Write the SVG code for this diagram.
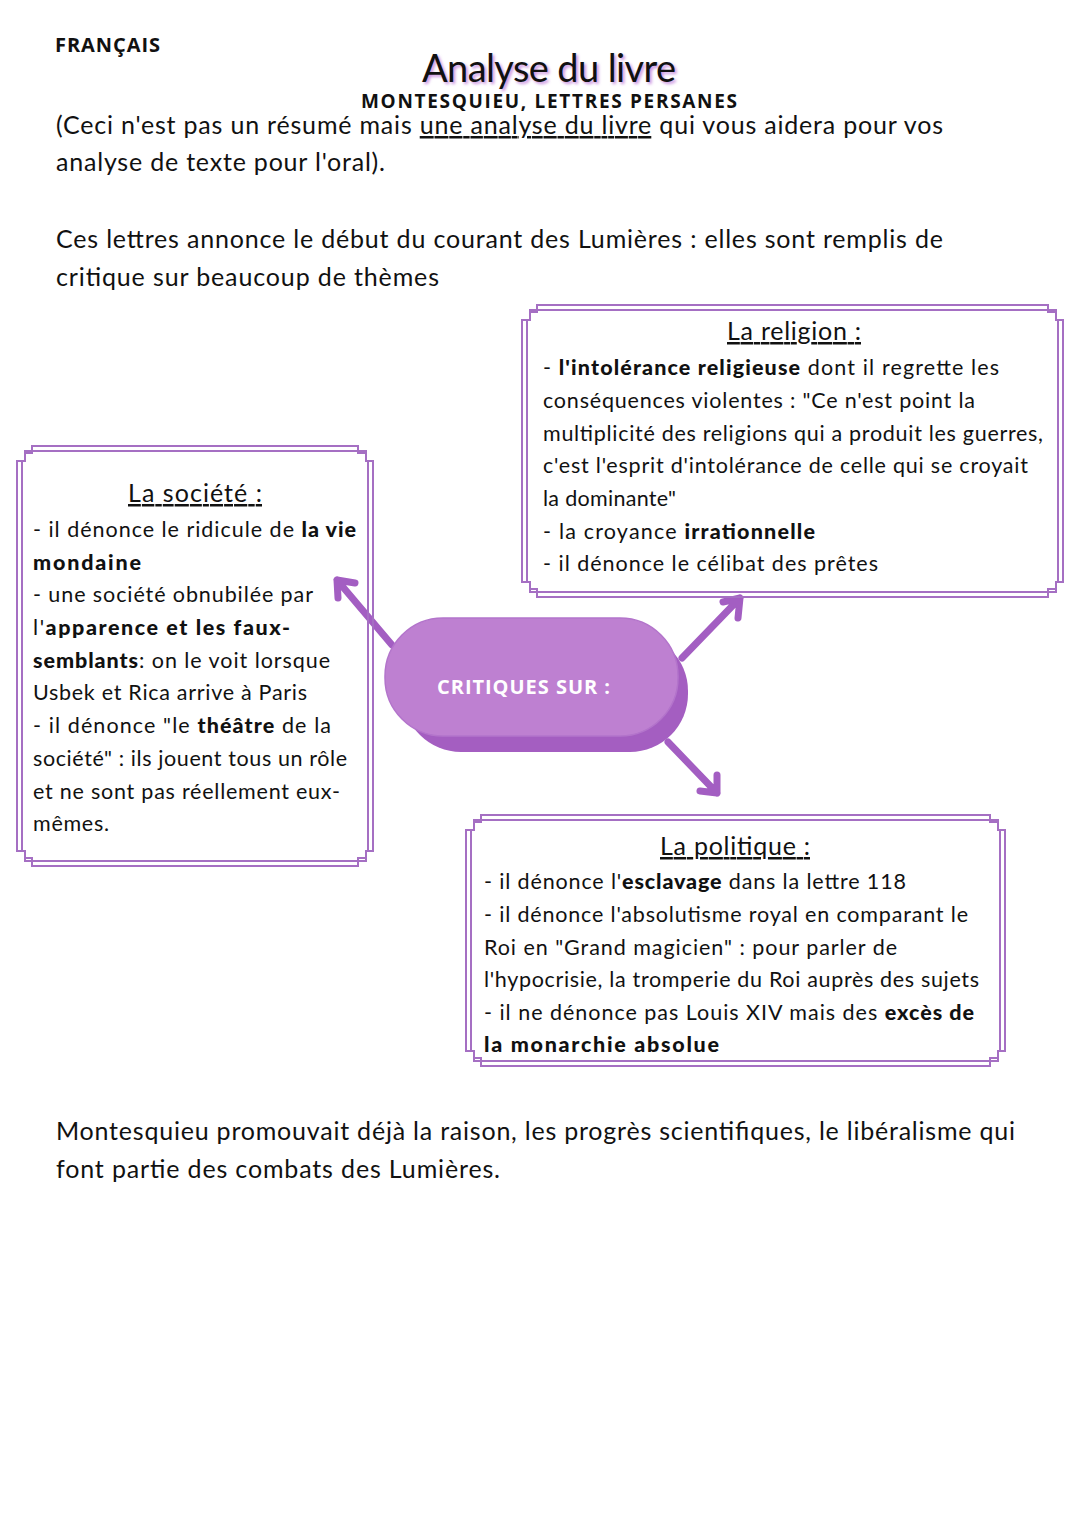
<svg xmlns="http://www.w3.org/2000/svg" width="1080" height="1527" viewBox="0 0 1080 1527">
<defs>
<style>
.t{font-family:Lato,"Noto Sans","DejaVu Sans",sans-serif;fill:#111;}
.top{font-size:25px;}
.box{font-size:21.5px;}
.h{font-size:25px;text-decoration:underline;}
.b{font-weight:900;}
.frame{fill:none;stroke:#A56FC3;stroke-width:2;}
.arrow{fill:none;stroke:#A35EC2;stroke-width:7;stroke-linecap:round;stroke-linejoin:round;}
.hdr{font-family:"Open Sans","Noto Sans","Liberation Sans",sans-serif;font-weight:700;fill:#111;}
</style>
<filter id="glow" x="-10%" y="-30%" width="120%" height="160%">
<feGaussianBlur stdDeviation="1.5"/>
</filter>
</defs>
<rect width="1080" height="1527" fill="#fff"/>

<g id="header">
<text class="hdr" x="55" y="52" font-size="20" textLength="105">FRANÇAIS</text>
<text class="t" x="551" y="84" font-size="38" text-anchor="middle" filter="url(#glow)" style="fill:#C98FE0" textLength="254">Analyse du livre</text>
<text class="t" x="549" y="82" font-size="38" text-anchor="middle" textLength="254">Analyse du livre</text>
<text class="hdr" x="549" y="108" font-size="19" text-anchor="middle" textLength="376">MONTESQUIEU, LETTRES PERSANES</text>
</g>

<g id="intro">
<text class="t top" x="56" y="134" textLength="887">(Ceci n'est pas un résumé mais <tspan text-decoration="underline">une analyse du livre</tspan> qui vous aidera pour vos</text>
<text class="t top" x="56" y="171" textLength="329">analyse de texte pour l'oral).</text>
<text class="t top" x="56" y="248" textLength="887">Ces lettres annonce le début du courant des Lumières : elles sont remplis de</text>
<text class="t top" x="56" y="286" textLength="383">critique sur beaucoup de thèmes</text>
</g>

<g id="connectors">
<path class="arrow" d="M392,645 L337,580 M355,583 L337,580 L338,598"/>
<path class="arrow" d="M682,658 L740,598 M723,602 L740,598 L738,618"/>
<path class="arrow" d="M668,742 L717,793 M700,791 L717,793 L717,775"/>
</g>

<g id="node-critiques">
<rect x="403" y="633" width="285" height="119" rx="58" fill="#A45EC1"/>
<rect x="385" y="618" width="293" height="118" rx="58" fill="#BE80D1" stroke="#B374CB" stroke-width="1.5"/>
<text x="437" y="694" font-family="'Open Sans','Noto Sans',sans-serif" font-weight="700" font-size="20" fill="#fff" textLength="173">CRITIQUES SUR :</text>
</g>

<g id="node-religion">
<path class="frame" d="M537,305 H1048 V312 H1056 V320 H1063 V582 H1056 V589 H1048 V597 H537 V589 H530 V582 H522 V320 H530 V312 H537 Z"/>
<path class="frame" d="M530,310 H1056 V320 H1058 V582 H1056 V592 H530 V582 H527 V320 H530 Z"/>
<text class="t h" x="794" y="340" text-anchor="middle" textLength="134">La religion :</text>
<text class="t box" x="543" y="375" textLength="456">- <tspan class="b">l'intolérance religieuse</tspan> dont il regrette les</text>
<text class="t box" x="543" y="408" textLength="432">conséquences violentes : "Ce n'est point la</text>
<text class="t box" x="543" y="441" textLength="500">multiplicité des religions qui a produit les guerres,</text>
<text class="t box" x="543" y="473" textLength="485">c'est l'esprit d'intolérance de celle qui se croyait</text>
<text class="t box" x="543" y="506" textLength="133">la dominante"</text>
<text class="t box" x="543" y="539" textLength="272">- la croyance <tspan class="b">irrationnelle</tspan></text>
<text class="t box" x="543" y="571" textLength="335">- il dénonce le célibat des prêtes</text>
</g>

<g id="node-societe">
<path class="frame" d="M32,446 H358 V453 H366 V461 H373 V851 H366 V858 H358 V866 H32 V858 H25 V851 H17 V461 H25 V453 H32 Z"/>
<path class="frame" d="M25,451 H366 V461 H368 V851 H366 V861 H25 V851 H22 V461 H25 Z"/>
<text class="t h" x="195" y="502" text-anchor="middle" textLength="134">La société :</text>
<text class="t box" x="33" y="537" textLength="323">- il dénonce le ridicule de <tspan class="b">la vie</tspan></text>
<text class="t box b" x="33" y="570" textLength="108">mondaine</text>
<text class="t box" x="33" y="602" textLength="280">- une société obnubilée par</text>
<text class="t box" x="33" y="635" textLength="257">l'<tspan class="b">apparence et les faux-</tspan></text>
<text class="t box" x="33" y="668" textLength="297"><tspan class="b">semblants</tspan>: on le voit lorsque</text>
<text class="t box" x="33" y="700" textLength="274">Usbek et Rica arrive à Paris</text>
<text class="t box" x="33" y="733" textLength="298">- il dénonce "le <tspan class="b">théâtre</tspan> de la</text>
<text class="t box" x="33" y="766" textLength="314">société" : ils jouent tous un rôle</text>
<text class="t box" x="33" y="799" textLength="307">et ne sont pas réellement eux-</text>
<text class="t box" x="33" y="831" textLength="76">mêmes.</text>
</g>

<g id="node-politique">
<path class="frame" d="M481,815 H990 V822 H998 V830 H1005 V1051 H998 V1058 H990 V1066 H481 V1058 H474 V1051 H466 V830 H474 V822 H481 Z"/>
<path class="frame" d="M474,820 H998 V830 H1000 V1051 H998 V1061 H474 V1051 H471 V830 H474 Z"/>
<text class="t h" x="735" y="855" text-anchor="middle" textLength="150">La politique :</text>
<text class="t box" x="484" y="889" textLength="422">- il dénonce l'<tspan class="b">esclavage</tspan> dans la lettre 118</text>
<text class="t box" x="484" y="922" textLength="484">- il dénonce l'absolutisme royal en comparant le</text>
<text class="t box" x="484" y="955" textLength="413">Roi en "Grand magicien" : pour parler de</text>
<text class="t box" x="484" y="987" textLength="495">l'hypocrisie, la tromperie du Roi auprès des sujets</text>
<text class="t box" x="484" y="1020" textLength="490">- il ne dénonce pas Louis XIV mais des <tspan class="b">excès de</tspan></text>
<text class="t box b" x="484" y="1052" textLength="235">la monarchie absolue</text>
</g>

<g id="conclusion">
<text class="t top" x="56" y="1140" textLength="959">Montesquieu promouvait déjà la raison, les progrès scientifiques, le libéralisme qui</text>
<text class="t top" x="56" y="1178" textLength="444">font partie des combats des Lumières.</text>
</g>
</svg>
